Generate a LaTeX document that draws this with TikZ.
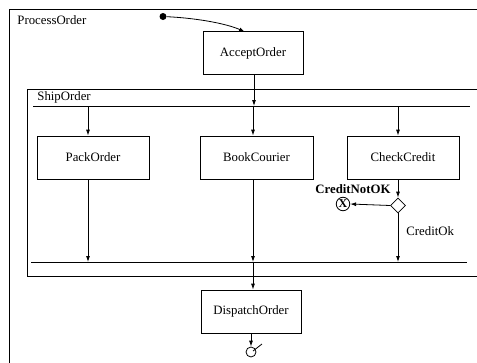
\documentclass[tikz,border=0pt]{standalone}
\usepackage{fontspec}
\setmainfont{Liberation Serif}
\usetikzlibrary{arrows.meta,shapes.geometric,calc}
\begin{document}
\begin{tikzpicture}[x=1pt,y=-1pt,
  font=\fontsize{12.8}{15}\selectfont,
  line width=0.8pt,
  box/.style={draw, minimum height=43pt, inner sep=0pt, line width=0.8pt},
  arr/.style={-{Latex[length=6pt,width=4pt]}},
  lbl/.style={inner sep=0pt, anchor=base west}]
\useasboundingbox (0,0) rectangle (477,362);
\clip (0,0) rectangle (477,362);
% frames
\draw (9,380) -- (9,9) -- (490,9);
\draw (490,89) -- (27,89) -- (27,276) -- (490,276);
\node[lbl] (procl) at (17,24) {ProcessOrder};
\node[lbl] (shipl) at (37,100.5) {ShipOrder};
% bars
\coordinate (forkL) at (33,106);
\coordinate (forkR) at (470,106);
\coordinate (joinL) at (31,262);
\coordinate (joinR) at (467,262);
\draw (forkL) -- (forkR);
\draw (joinL) -- (joinR);
% nodes
\node[circle, fill, inner sep=0pt, minimum size=7pt] (init) at (163,16.5) {};
\node[box, minimum width=100pt] (accept) at (253,53) {AcceptOrder};
\node[box, minimum width=112pt] (pack) at (93,157.5) {PackOrder};
\node[box, minimum width=113pt] (book) at (256.5,157.5) {BookCourier};
\node[box, minimum width=112pt] (check) at (403,157.5) {CheckCredit};
\node[box, minimum width=100pt] (dispatch) at (251,311.5) {DispatchOrder};
\node[diamond, draw, aspect=1, minimum width=15pt, minimum height=15pt, inner sep=0pt] (dec) at (398,205.5) {};
\node[circle, draw, minimum size=13.5pt, inner sep=0pt, font=\fontsize{12}{12}\bfseries\selectfont] (xend) at (343,204) {X};
\node[circle, draw, minimum size=10pt, inner sep=0pt] (final) at (251,352) {};
\coordinate (tick) at (262,344);
\draw ($(final.center)+(2,-1)$) -- (tick);
% labels
\node[lbl, font=\fontsize{12.8}{15}\bfseries\selectfont] (cnok) at (315,193) {CreditNotOK};
\node[lbl] (cok) at (406,235) {CreditOk};
% connectors
\coordinate (ain) at (245,32);
\draw[arr] (init) .. controls +(40,2) and +(-15,-7) .. (ain);
\coordinate (ak) at (254,106);
\coordinate (pk) at (88,106);
\coordinate (bk) at (253,106);
\coordinate (ck) at (398,106);
\coordinate (jd) at (253,262);
\draw[arr] (accept.south -| ak) -- (ak);
\draw[arr] (pk) -- (pk |- pack.north);
\draw[arr] (bk) -- (bk |- book.north);
\draw[arr] (ck) -- (ck |- check.north);
\draw[arr] (pack.south -| pk) -- (pk |- joinL);
\draw[arr] (book.south -| bk) -- (bk |- joinL);
\draw[arr] (check.south -| ck) -- (dec.north);
\draw[arr] (dec.west) -- (xend.east);
\draw[arr] (dec.south) -- (dec.south |- joinL);
\draw[arr] (jd) -- (jd |- dispatch.north);
\draw[arr] (dispatch.south) -- (final.north);
\end{tikzpicture}
\end{document}
